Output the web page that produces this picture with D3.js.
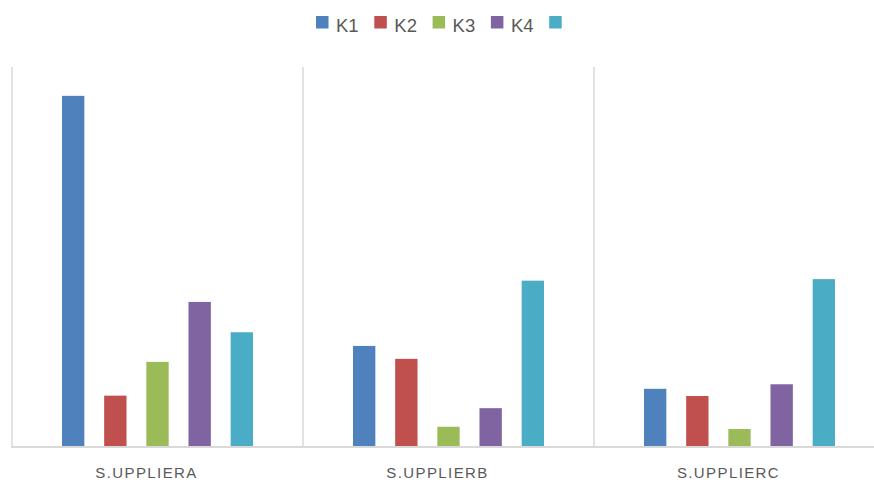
<!DOCTYPE html>
<html>
<head>
<meta charset="utf-8">
<script src="https://cdn.jsdelivr.net/npm/d3@7"></script>
<style>
  html, body { margin: 0; padding: 0; background: #fff; overflow: hidden; }
  svg { display: block; }
</style>
</head>
<body>
<svg id="chart" width="874" height="482"></svg>
<script>
const categories = ["S.UPPLIERA", "S.UPPLIERB", "S.UPPLIERC"];
const seriesNames = ["K1", "K2", "K3", "K4", ""];
const k1 = [92.4, 26.5, 15.2];
const k2 = [13.4, 23.1, 13.3];
const k3 = [22.3, 5.2, 4.6];
const k4 = [38.1, 10.1, 16.4];
const k5 = [30.1, 43.7, 44.1];
const colors = ["#4F81BD", "#C0504D", "#9BBB59", "#8064A2", "#4BACC6"];

const seriesValues = [k1, k2, k3, k4, k5];
const data = categories.map((c, i) => ({
  cat: c,
  vals: seriesValues.map((s, j) => ({ key: j, v: s[i] }))
}));

const svg = d3.select("#chart");
const plotLeft = 12, plotRight = 885, plotTop = 67, plotBottom = 446.5;

const x0 = d3.scaleBand().domain(categories).range([plotLeft, plotRight]).padding(0);
const x1 = d3.scaleBand().domain(d3.range(seriesNames.length))
  .range([50, x0.bandwidth() - 50]).paddingInner(0.47).paddingOuter(0);
const y = d3.scaleLinear().domain([0, 100]).range([plotBottom, plotTop]);

const grid = "#d9d9d9";
// vertical separators (category boundaries)
svg.append("g").selectAll("line")
  .data(categories)
  .join("line")
  .attr("x1", d => x0(d)).attr("x2", d => x0(d))
  .attr("y1", plotTop).attr("y2", plotBottom)
  .attr("stroke", grid).attr("stroke-width", 1.5);

// bars
const groups = svg.append("g").selectAll("g")
  .data(data).join("g")
  .attr("transform", d => `translate(${x0(d.cat)},0)`);
groups.selectAll("rect")
  .data(d => d.vals).join("rect")
  .attr("x", d => x1(d.key))
  .attr("width", x1.bandwidth())
  .attr("y", d => y(d.v))
  .attr("height", d => y(0) - y(d.v))
  .attr("fill", d => colors[d.key]);

// baseline
svg.append("line")
  .attr("x1", plotLeft - 1).attr("x2", plotRight)
  .attr("y1", plotBottom + 0.5).attr("y2", plotBottom + 0.5)
  .attr("stroke", grid).attr("stroke-width", 2);

// category labels
svg.append("g").selectAll("text")
  .data(categories).join("text")
  .attr("x", d => x0(d) + x0.bandwidth() / 2 - 11)
  .attr("y", 478)
  .attr("text-anchor", "middle")
  .attr("font-family", "Liberation Sans, Arial, sans-serif")
  .attr("font-size", 15)
  .attr("letter-spacing", 1.4)
  .attr("fill", "#595959")
  .text(d => d);

// legend
const legend = svg.append("g");
const lx = 316, step = 58.3;
const items = legend.selectAll("g").data(seriesNames).join("g")
  .attr("transform", (d, i) => `translate(${lx + i * step},16)`);
items.append("rect")
  .attr("width", 12.5).attr("height", 12.5)
  .attr("fill", (d, i) => colors[i]);
items.append("text")
  .attr("x", 20).attr("y", 15.7)
  .attr("font-family", "Liberation Sans, Arial, sans-serif")
  .attr("font-size", 18.5)
  .attr("fill", "#595959")
  .text(d => d);
</script>
</body>
</html>
